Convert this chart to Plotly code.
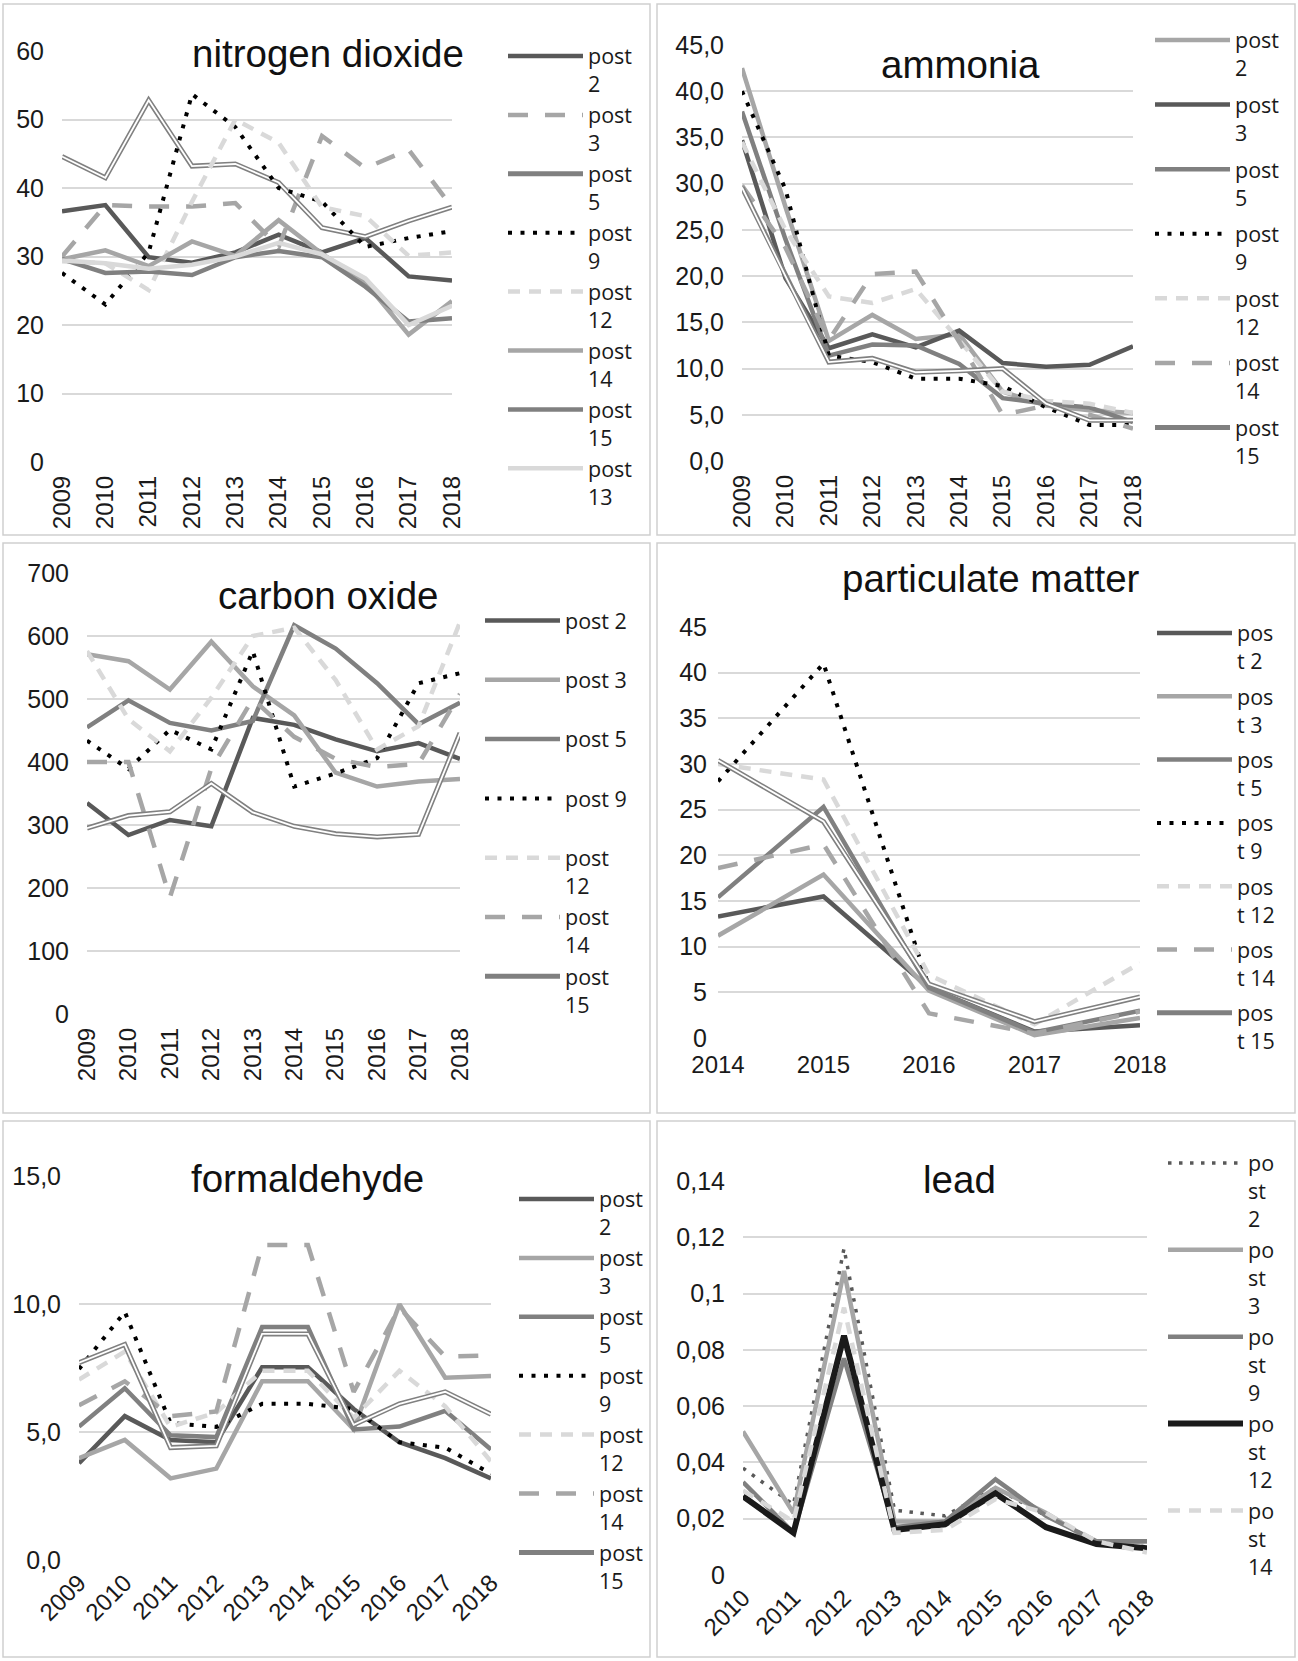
import plotly.graph_objects as go

W, H = 1298, 1661

# ---------------- data ----------------
years_a = [2009, 2010, 2011, 2012, 2013, 2014, 2015, 2016, 2017, 2018]
years_b = [2014, 2015, 2016, 2017, 2018]
years_c = [2010, 2011, 2012, 2013, 2014, 2015, 2016, 2017, 2018]
year_labels_a = [str(y) for y in years_a]
year_labels_b = [str(y) for y in years_b]
year_labels_c = [str(y) for y in years_c]

# nitrogen dioxide
no2_post2 = [36.6, 37.5, 29.9, 29.1, 30.6, 33.2, 30.6, 32.7, 27.1, 26.5]
no2_post3 = [30.0, 37.5, 37.3, 37.3, 37.8, 31.4, 47.6, 42.9, 45.6, 37.2]
no2_post5 = [44.6, 41.5, 52.8, 43.2, 43.5, 40.8, 34.2, 32.9, 35.2, 37.2]
no2_post9 = [27.6, 23.0, 30.6, 53.7, 48.9, 40.0, 38.0, 31.4, 32.7, 33.7]
no2_post12 = [29.3, 29.0, 25.1, 38.0, 50.0, 46.6, 37.2, 35.9, 30.1, 30.6]
no2_post14 = [29.6, 30.9, 28.6, 32.2, 30.1, 35.3, 30.4, 26.2, 18.6, 23.5]
no2_post15 = [29.6, 27.6, 27.8, 27.3, 29.9, 30.8, 29.9, 25.6, 20.5, 21.0]
no2_post13 = [29.4, 29.0, 28.2, 28.8, 30.0, 32.0, 30.3, 26.8, 20.0, 22.8]

# ammonia
nh3_post2 = [42.5, 27.5, 13.0, 15.8, 13.2, 13.7, 7.5, 6.0, 5.5, 5.2]
nh3_post3 = [34.7, 19.8, 12.2, 13.7, 12.3, 14.1, 10.6, 10.2, 10.4, 12.4]
nh3_post5 = [37.8, 24.0, 11.4, 12.6, 12.5, 10.5, 6.8, 6.2, 5.8, 4.2]
nh3_post9 = [40.0, 29.4, 11.4, 10.7, 8.9, 8.9, 8.1, 5.8, 3.9, 3.9]
nh3_post12 = [34.5, 25.0, 17.8, 17.1, 18.6, 13.0, 7.5, 6.5, 6.2, 5.2]
nh3_post14 = [29.8, 23.1, 13.1, 20.2, 20.5, 12.9, 5.0, 6.0, 5.0, 3.5]
nh3_post15 = [29.6, 20.0, 10.7, 11.1, 9.6, 9.75, 10.0, 6.2, 4.4, 4.4]

# carbon oxide
co_post2 = [335, 284, 308, 298, 470, 459, 436, 417, 430, 405]
co_post3 = [571, 560, 515, 591, 520, 474, 383, 361, 369, 373]
co_post5 = [455, 498, 462, 450, 465, 617, 580, 525, 460, 494]
co_post9 = [434, 389, 451, 420, 576, 361, 382, 406, 525, 541]
co_post12 = [576, 468, 417, 502, 600, 613, 530, 420, 457, 622]
co_post14 = [400, 400, 185, 390, 500, 440, 405, 392, 397, 508]
co_post15 = [295, 315, 321, 366, 320, 298, 286, 281, 285, 446]

# particulate matter
pm_post2 = [13.3, 15.5, 5.5, 0.7, 1.4]
pm_post3 = [11.2, 17.9, 5.2, 0.3, 2.2]
pm_post5 = [15.4, 25.3, 5.5, 0.6, 3.0]
pm_post9 = [28.1, 41.0, 5.6, None, None]
pm_post12 = [30.0, 28.3, 6.9, 1.5, 8.2]
pm_post14 = [18.6, 21.2, 2.7, 0.5, 2.9]
pm_post15 = [30.4, 23.7, 5.9, 1.8, 4.5]

# formaldehyde
hcho_post2 = [3.78, 5.62, 4.69, 4.6, 7.53, 7.53, 5.9, 4.6, 3.98, 3.19]
hcho_post3 = [3.98, 4.69, 3.19, 3.57, 6.98, 6.98, 5.1, 9.99, 7.12, 7.19]
hcho_post5 = [5.21, 6.71, 4.87, 4.8, 9.1, 9.1, 5.1, 5.21, 5.83, 4.32]
hcho_post9 = [7.46, 9.69, 5.35, 5.2, 6.1, 6.1, 5.9, 4.6, 4.39, 3.37]
hcho_post12 = [7.05, 8.14, 5.2, 5.76, 7.39, 7.39, 5.55, 7.39, 6.0, 3.85]
hcho_post14 = [6.04, 6.98, 5.62, 5.8, 12.3, 12.3, 6.57, 9.85, 7.94, 8.0]
hcho_post15 = [7.71, 8.42, 4.39, 4.46, 8.83, 8.83, 5.28, 6.1, 6.57, 5.69]

# lead
pb_post2 = [0.038, 0.025, 0.116, 0.023, 0.021, 0.031, 0.021, 0.012, 0.010]
pb_post3 = [0.051, 0.022, 0.108, 0.019, 0.019, 0.031, 0.022, 0.011, 0.012]
pb_post9 = [0.033, 0.015, 0.077, 0.017, 0.019, 0.034, 0.021, 0.012, 0.012]
pb_post12 = [0.028, 0.015, 0.085, 0.016, 0.018, 0.029, 0.017, 0.011, 0.0095]
pb_post14 = [0.030, 0.019, 0.095, 0.015, 0.016, 0.027, 0.022, 0.012, 0.008]

titles = ["nitrogen dioxide", "ammonia", "carbon oxide", "particulate matter", "formaldehyde", "lead"]

ytick_vals = [
    [0, 10, 20, 30, 40, 50, 60],
    [0, 5, 10, 15, 20, 25, 30, 35, 40, 45],
    [0, 100, 200, 300, 400, 500, 600, 700],
    [0, 5, 10, 15, 20, 25, 30, 35, 40, 45],
    [0, 5, 10, 15],
    [0, 0.02, 0.04, 0.06, 0.08, 0.1, 0.12, 0.14],
]
ytick_text = [
    ["0", "10", "20", "30", "40", "50", "60"],
    ["0,0", "5,0", "10,0", "15,0", "20,0", "25,0", "30,0", "35,0", "40,0", "45,0"],
    ["0", "100", "200", "300", "400", "500", "600", "700"],
    ["0", "5", "10", "15", "20", "25", "30", "35", "40", "45"],
    ["0,0", "5,0", "10,0", "15,0"],
    ["0", "0,02", "0,04", "0,06", "0,08", "0,1", "0,12", "0,14"],
]

# ---------------- styles ----------------
DARK, MED, LIGHT, VLIGHT = "#595959", "#808080", "#a6a6a6", "#d9d9d9"
S_DARK = dict(color=DARK)
S_MED = dict(color=MED)
S_LIGHT = dict(color=LIGHT)
S_VLIGHT = dict(color=VLIGHT)
S_LONG = dict(color=LIGHT, dash="20px,17px")
S_SHORT = dict(color=VLIGHT, dash="12px,9px")
S_DOT = dict(color="#000000", dash="4px,8.5px", width=4)
S_DOUBLE = dict(color=MED, double=True)
S_DOT_GRAY = dict(color=DARK, dash="3.5px,7.5px", width=3.5)
S_BLACK = dict(color="#1a1a1a", width=6)

# panel layout in pixels (x_left, x_right, y_top, y_bottom)
plots_px = [
    (62, 452, 51, 462),
    (742, 1133, 45, 461),
    (87, 460, 573, 1014),
    (718, 1140, 627, 1038),
    (79, 491, 1176, 1560),
    (743, 1147, 1181, 1575),
]
# legend (left, top, group gap)
legends_px = [
    (503, 35.5, 0),
    (1150, 19.5, 5.7),
    (480, 600, 0.4),
    (1152, 612.5, 4.4),
    (514, 1178.5, 0),
    (1163, 1142.5, 0),
]
titles_px = [(328, 54), (960, 64), (328, 595), (991, 579), (307, 1178), (959, 1179)]
borders_px = [
    (3, 650, 4, 535), (657, 1295, 4, 535),
    (3, 650, 543, 1113), (657, 1295, 543, 1113),
    (3, 650, 1121, 1657), (657, 1295, 1121, 1657),
]

panels = [
    dict(x=years_a, xr=[2009, 2018], xt=year_labels_a, ang=-90, yr=[0, 60], series=[
        ("post<br>2", no2_post2, S_DARK), ("post<br>3", no2_post3, S_LONG),
        ("post<br>5", no2_post5, S_DOUBLE), ("post<br>9", no2_post9, S_DOT),
        ("post<br>12", no2_post12, S_SHORT), ("post<br>14", no2_post14, S_LIGHT),
        ("post<br>15", no2_post15, S_MED), ("post<br>13", no2_post13, S_VLIGHT)]),
    dict(x=years_a, xr=[2009, 2018], xt=year_labels_a, ang=-90, yr=[0, 45], series=[
        ("post<br>2", nh3_post2, S_LIGHT), ("post<br>3", nh3_post3, S_DARK),
        ("post<br>5", nh3_post5, S_MED), ("post<br>9", nh3_post9, S_DOT),
        ("post<br>12", nh3_post12, S_SHORT), ("post<br>14", nh3_post14, S_LONG),
        ("post<br>15", nh3_post15, S_DOUBLE)]),
    dict(x=years_a, xr=[2009, 2018], xt=year_labels_a, ang=-90, yr=[0, 700], series=[
        ("post 2<br>\u00a0", co_post2, S_DARK), ("post 3<br>\u00a0", co_post3, S_LIGHT),
        ("post 5<br>\u00a0", co_post5, S_MED), ("post 9<br>\u00a0", co_post9, S_DOT),
        ("post<br>12", co_post12, S_SHORT), ("post<br>14", co_post14, S_LONG),
        ("post<br>15", co_post15, S_DOUBLE)]),
    dict(x=years_b, xr=[2014, 2018], xt=year_labels_b, ang=0, yr=[0, 45], series=[
        ("pos<br>t 2", pm_post2, S_DARK), ("pos<br>t 3", pm_post3, S_LIGHT),
        ("pos<br>t 5", pm_post5, S_MED), ("pos<br>t 9", pm_post9, S_DOT),
        ("pos<br>t 12", pm_post12, S_SHORT), ("pos<br>t 14", pm_post14, S_LONG),
        ("pos<br>t 15", pm_post15, S_DOUBLE)]),
    dict(x=years_a, xr=[2009, 2018], xt=year_labels_a, ang=-45, yr=[0, 15], series=[
        ("post<br>2", hcho_post2, S_DARK), ("post<br>3", hcho_post3, S_LIGHT),
        ("post<br>5", hcho_post5, S_MED), ("post<br>9", hcho_post9, S_DOT),
        ("post<br>12", hcho_post12, S_SHORT), ("post<br>14", hcho_post14, S_LONG),
        ("post<br>15", hcho_post15, S_DOUBLE)]),
    dict(x=years_c, xr=[2010, 2018], xt=year_labels_c, ang=-45, yr=[0, 0.14], series=[
        ("po<br>st<br>2", pb_post2, S_DOT_GRAY), ("po<br>st<br>3", pb_post3, S_LIGHT),
        ("po<br>st<br>9", pb_post9, S_MED), ("po<br>st<br>12", pb_post12, S_BLACK),
        ("po<br>st<br>14", pb_post14, S_SHORT)]),
]

FONT = "Liberation Sans, Arial, sans-serif"
LEGEND_FONT = "Open Sans, Liberation Sans, Arial, sans-serif"
fig = go.Figure()
layout = dict(
    width=W, height=H, margin=dict(l=0, r=0, t=0, b=0, autoexpand=False),
    paper_bgcolor="white", plot_bgcolor="white", showlegend=True,
    font=dict(family=FONT, color="#1a1a1a"),
)

shapes = []
annotations = []
for i, p in enumerate(panels):
    k = i + 1
    xs = "" if k == 1 else str(k)
    xl, xr, yt, yb = plots_px[i]
    layout["xaxis" + xs] = dict(
        domain=[xl / W, xr / W], range=p["xr"], anchor="y" + xs,
        tickvals=p["x"], ticktext=p["xt"], tickangle=p["ang"],
        showgrid=False, zeroline=False, showline=False, ticks="",
        tickfont=dict(family=FONT, size=24, color="#1a1a1a"),
        ticklabelstandoff={-90: 8, 0: 10, -45: 3}[p["ang"]],
    )
    layout["yaxis" + xs] = dict(
        domain=[1 - yb / H, 1 - yt / H], range=p["yr"], anchor="x" + xs,
        tickvals=ytick_vals[i], ticktext=ytick_text[i],
        showgrid=True, gridcolor="#d9d9d9", gridwidth=1.5,
        zeroline=False, showline=False, ticks="",
        tickfont=dict(family=FONT, size=25, color="#1a1a1a"),
        ticklabelstandoff=10 if k == 4 else 17,
    )
    lname = "legend" if k == 1 else "legend" + str(k)
    lx, ly, gap = legends_px[i]
    layout[lname] = dict(
        x=lx / W, y=1 - ly / H, xanchor="left", yanchor="top",
        bgcolor="rgba(0,0,0,0)", borderwidth=0, valign="top",
        itemwidth=75, tracegroupgap=gap, traceorder="grouped",
        font=dict(family=LEGEND_FONT, size=21.5, color="#1a1a1a"),
    )
    for j, (name, vals, st) in enumerate(p["series"]):
        grp = "p%d_%d" % (k, j)
        width = st.get("width", 4.5)
        dash = st.get("dash", "solid")
        if st.get("double"):
            fig.add_trace(go.Scatter(
                x=p["x"], y=vals, name=name, mode="lines", xaxis="x" + xs, yaxis="y" + xs,
                line=dict(color=st["color"], width=5), legend=lname, legendgroup=grp,
                hoverinfo="skip"))
            fig.add_trace(go.Scatter(
                x=p["x"], y=vals, name=name, mode="lines", xaxis="x" + xs, yaxis="y" + xs,
                line=dict(color="white", width=1.8), legend=lname, legendgroup=grp,
                showlegend=False, hoverinfo="skip"))
        else:
            fig.add_trace(go.Scatter(
                x=p["x"], y=vals, name=name, mode="lines", xaxis="x" + xs, yaxis="y" + xs,
                line=dict(color=st["color"], width=width, dash=dash), legend=lname,
                legendgroup=grp, hoverinfo="skip"))
    tx, ty = titles_px[i]
    annotations.append(dict(
        text=titles[i], x=tx / W, y=1 - ty / H, xref="paper", yref="paper",
        xanchor="center", yanchor="middle", showarrow=False,
        font=dict(family=FONT, size=38.5, color="#111111")))
    bl, br, bt, bb = borders_px[i]
    shapes.append(dict(type="rect", xref="paper", yref="paper",
                       x0=bl / W, x1=br / W, y0=1 - bb / H, y1=1 - bt / H,
                       line=dict(color="#cfcfcf", width=1.5), layer="below"))

layout["shapes"] = shapes
layout["annotations"] = annotations
fig.update_layout(**layout)
fig.write_html(
    "out.html",
    config={"displayModeBar": False},
    post_script="document.body.style.margin='0px';document.body.style.padding='0px';"
                "document.body.style.overflow='hidden';",
)
